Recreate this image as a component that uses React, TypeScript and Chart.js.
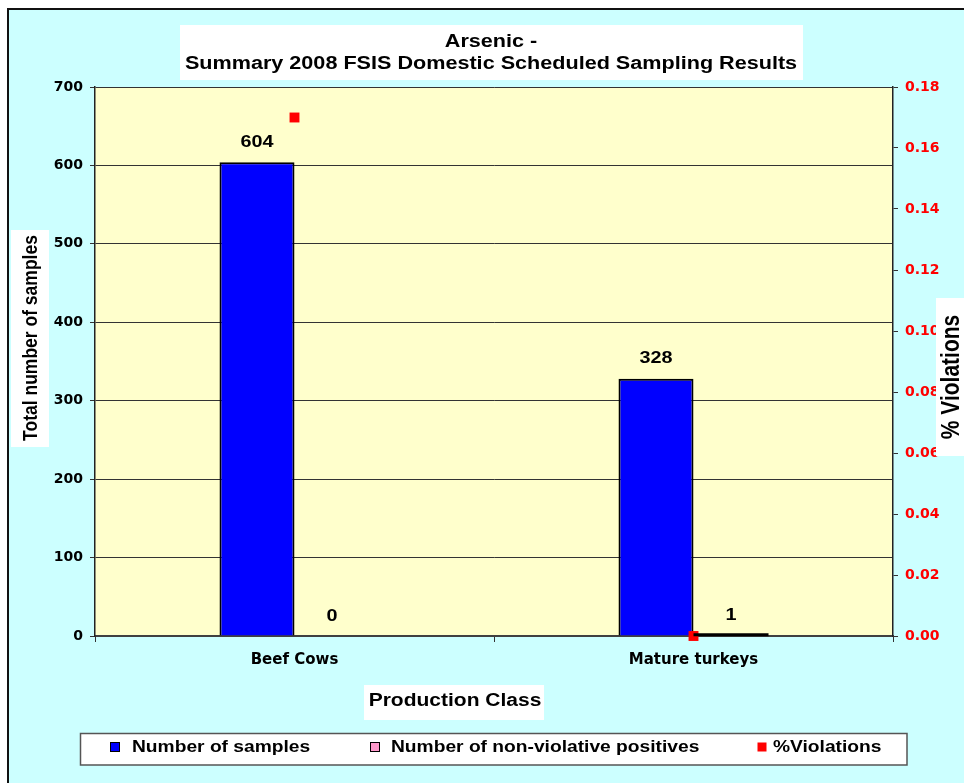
import React, { useEffect, useRef } from 'react';
import { Chart, registerables } from 'chart.js';

Chart.register(...registerables);

const categories = ['Beef Cows', 'Mature turkeys'];
const numberOfSamples = [604, 328];
const nonViolativePositives = [0, 1];
const percentViolations = [0.17, 0];
const seriesNames = ['Number of samples', 'Number of non-violative positives', '%Violations'];
const titleLines = ['Arsenic -', 'Summary 2008 FSIS Domestic Scheduled Sampling Results'];
const xTitle = 'Production Class';
const yTitle = 'Total number of samples';
const y1Title = '% Violations';

const SX = 1.2;
const FONT = '"Liberation Sans", Arial, sans-serif';

function stretched(ctx: CanvasRenderingContext2D, text: string, x: number, y: number, size: number, color = '#000', align: CanvasTextAlign = 'center', rotate = false) {
  ctx.save();
  ctx.font = `bold ${size}px ${FONT}`;
  ctx.fillStyle = color;
  ctx.textAlign = align;
  ctx.textBaseline = 'middle';
  ctx.translate(x, y);
  ctx.scale(SX, 1);
  if (rotate) ctx.rotate(-Math.PI / 2);
  ctx.fillText(text, 0, 0);
  ctx.restore();
}

const decorPlugin = {
  id: 'decor',
  beforeDraw(chart: any) {
    const ctx = chart.ctx as CanvasRenderingContext2D;
    const { width, height, chartArea } = chart;
    ctx.save();
    ctx.fillStyle = '#FFFFFF';
    ctx.fillRect(0, 0, width, height);
    ctx.fillStyle = '#CCFFFF';
    ctx.fillRect(7, 8, width - 7, height - 8);
    ctx.strokeStyle = '#111';
    ctx.lineWidth = 2;
    ctx.beginPath();
    ctx.moveTo(8, height);
    ctx.lineTo(8, 9);
    ctx.lineTo(width, 9);
    ctx.stroke();
    ctx.fillStyle = '#FFFFCC';
    ctx.fillRect(chartArea.left, chartArea.top, chartArea.right - chartArea.left, chartArea.bottom - chartArea.top);
    ctx.restore();
  },
  afterDatasetsDraw(chart: any) {
    // Excel-style outline for very short bars (border stays visible)
    const ctx = chart.ctx as CanvasRenderingContext2D;
    const meta = chart.getDatasetMeta(1);
    ctx.save();
    ctx.strokeStyle = '#000';
    ctx.lineWidth = 3;
    meta.data.forEach((el: any, i: number) => {
      const v = chart.data.datasets[1].data[i];
      if (v > 0) {
        const w = el.width;
        ctx.beginPath();
        ctx.moveTo(el.x - w / 2, el.y - 0.5);
        ctx.lineTo(el.x + w / 2, el.y - 0.5);
        ctx.stroke();
      }
    });
    ctx.restore();
  },
  afterDraw(chart: any) {
    const ctx = chart.ctx as CanvasRenderingContext2D;
    ctx.save();
    // title box
    ctx.fillStyle = '#FFFFFF';
    ctx.fillRect(180, 25, 623, 55);
    stretched(ctx, titleLines[0], 491, 42, 18);
    stretched(ctx, titleLines[1], 491, 64, 18);
    // y title
    ctx.fillStyle = '#FFFFFF';
    ctx.fillRect(11, 230, 38, 217);
    stretched(ctx, yTitle, 31, 338, 17.5, '#000', 'center', true);
    // y1 title
    ctx.fillStyle = '#FFFFFF';
    ctx.fillRect(936, 298, 30, 158);
    stretched(ctx, y1Title, 952, 377, 21, '#000', 'center', true);
    // x title
    ctx.fillStyle = '#FFFFFF';
    ctx.fillRect(364, 685, 180, 35);
    stretched(ctx, xTitle, 455, 701, 17.5);

    // data labels
    [0, 1].forEach((di) => {
      const meta = chart.getDatasetMeta(di);
      meta.data.forEach((el: any, i: number) => {
        const v = chart.data.datasets[di].data[i];
        stretched(ctx, String(v), el.x, el.y - 20, 16.5);
      });
    });

    // legend
    ctx.fillStyle = '#FFFFFF';
    ctx.fillRect(80, 733, 827, 32);
    ctx.strokeStyle = '#555';
    ctx.lineWidth = 1.5;
    ctx.strokeRect(80.5, 733.5, 826.5, 31.5);
    const items = [
      { x: 115, tx: 132, color: '#0000FF', border: true },
      { x: 375, tx: 391, color: '#FF99CC', border: true },
      { x: 762, tx: 773, color: '#FF0000', border: false },
    ];
    items.forEach((it, i) => {
      ctx.fillStyle = it.color;
      ctx.fillRect(it.x - 4.5, 742.5, 9, 9);
      if (it.border) {
        ctx.strokeStyle = '#000';
        ctx.lineWidth = 1;
        ctx.strokeRect(it.x - 4.5, 742.5, 9, 9);
      }
      stretched(ctx, seriesNames[i], it.tx, 747.5, 16, '#000', 'left');
    });
    ctx.restore();
  },
};

export default function App() {
  const ref = useRef<HTMLCanvasElement | null>(null);
  useEffect(() => {
    if (!ref.current) return;
    const tickFont = { family: '"DejaVu Sans", sans-serif', weight: 'bold' as const, size: 14 };
    const chart = new Chart(ref.current, {
      type: 'bar',
      data: {
        labels: categories,
        datasets: [
          {
            type: 'bar',
            label: seriesNames[0],
            data: numberOfSamples,
            backgroundColor: '#0000FF',
            borderColor: '#000000',
            borderWidth: 2,
            barPercentage: 1,
            categoryPercentage: 0.376,
            yAxisID: 'y',
          } as any,
          {
            type: 'bar',
            label: seriesNames[1],
            data: nonViolativePositives,
            backgroundColor: '#FF99CC',
            borderColor: '#000000',
            borderWidth: 2,
            barPercentage: 1,
            categoryPercentage: 0.376,
            yAxisID: 'y',
          } as any,
          {
            type: 'line',
            label: seriesNames[2],
            data: percentViolations,
            showLine: false,
            pointStyle: 'rect',
            pointRadius: 7,
            pointBorderWidth: 0,
            backgroundColor: '#FF0000',
            borderColor: '#FF0000',
            yAxisID: 'y1',
            clip: false,
            order: -1,
          } as any,
        ],
      },
      options: {
        animation: false,
        responsive: false,
        events: [],
        layout: { padding: { top: 87, left: 0, right: 0, bottom: 0 } },
        plugins: {
          legend: { display: false },
          title: { display: false },
          tooltip: { enabled: false },
        },
        scales: {
          x: {
            type: 'category',
            offset: true,
            grid: { display: true, drawOnChartArea: false, drawTicks: true, tickLength: 6, color: '#333', offset: true },
            border: { display: true, color: '#404040', width: 2 },
            ticks: { color: '#000', font: { ...tickFont, size: 15 }, padding: 9, maxRotation: 0, autoSkip: false },
            afterFit: (s: any) => { s.height = 147; },
          },
          y: {
            position: 'left',
            min: 0,
            max: 700,
            ticks: { stepSize: 100, color: '#000', font: tickFont, padding: 7 },
            grid: { color: '#333', lineWidth: 1, tickLength: 5 },
            border: { display: true, color: '#222', width: 1.5 },
            afterFit: (s: any) => { s.width = 95; },
          },
          y1: {
            position: 'right',
            min: 0,
            max: 0.18,
            ticks: { stepSize: 0.02, color: '#FF0000', font: tickFont, padding: 7, callback: (v: any) => Number(v).toFixed(2) },
            grid: { drawOnChartArea: false, color: '#333', tickLength: 5 },
            border: { display: true, color: '#222', width: 1.5 },
            afterFit: (s: any) => { s.width = 71; },
          },
        },
      } as any,
      plugins: [decorPlugin],
    });
    return () => chart.destroy();
  }, []);
  return (
    <div style={{ position: 'absolute', left: 0, top: 0, width: 964, height: 783 }}>
      <canvas ref={ref} width={964} height={783} style={{ display: 'block' }} />
    </div>
  );
}
